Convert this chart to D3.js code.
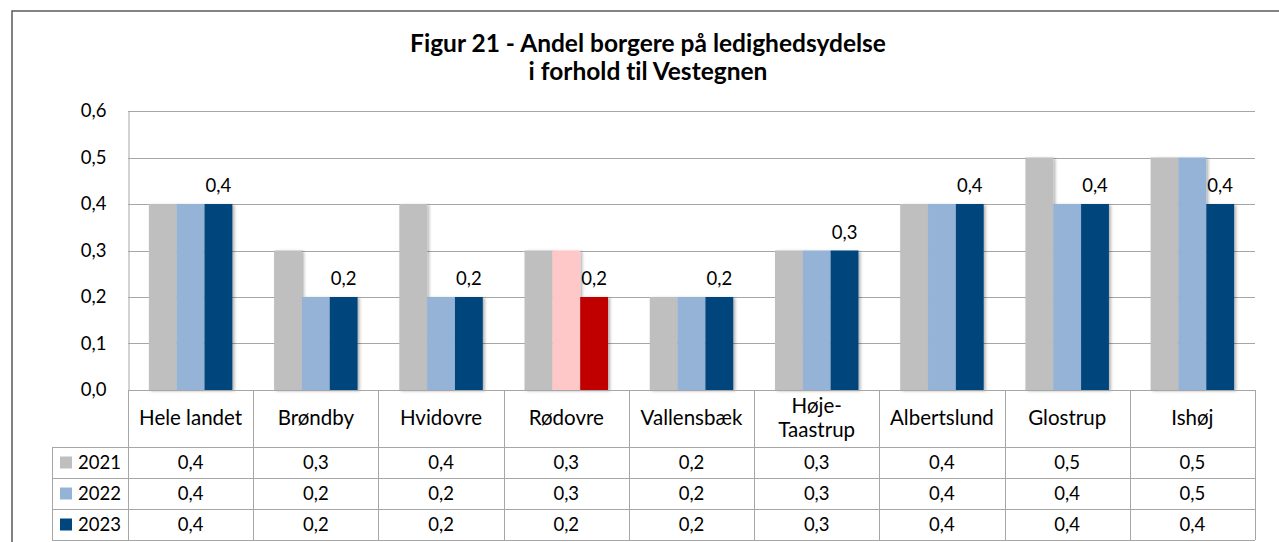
<!DOCTYPE html>
<html>
<head>
<meta charset="utf-8">
<script src="https://cdn.jsdelivr.net/npm/d3@7"></script>
<style>
  body { margin: 0; background: #fff; }
  text { font-family: Lato, "Open Sans", sans-serif; fill: #000; font-variant-ligatures: none; }
</style>
</head>
<body>
<div id="chart"></div>
<script>
// data
const categories = ["Hele landet", "Brøndby", "Hvidovre", "Rødovre", "Vallensbæk", "Høje-Taastrup", "Albertslund", "Glostrup", "Ishøj"];
const years = ["2021", "2022", "2023"];
const values2021 = [0.4, 0.3, 0.4, 0.3, 0.2, 0.3, 0.4, 0.5, 0.5];
const values2022 = [0.4, 0.2, 0.2, 0.3, 0.2, 0.3, 0.4, 0.4, 0.5];
const values2023 = [0.4, 0.2, 0.2, 0.2, 0.2, 0.3, 0.4, 0.4, 0.4];
const yTicks = [0, 0.1, 0.2, 0.3, 0.4, 0.5, 0.6];
const highlighted = "Rødovre";

const series = [values2021, values2022, values2023];
const colors = ["#bfbfbf", "#95b3d7", "#00457c"];
const highlightColors = ["#bfbfbf", "#ffc8c8", "#c00000"];

const W = 1279, H = 542;
const plotLeft = 128, plotRight = 1255;
const plotTop = 111, plotBottom = 390;
const headerBottom = 447;
const rowH = 31;
const tableLeft = 52;
const FS = 18.5;      // numbers
const FS_CAT = 20.5;  // category names

const locale = d3.formatLocale({ decimal: ",", thousands: ".", grouping: [3], currency: ["", " kr."] });
const fmt = locale.format(".1f");

const svg = d3.select("#chart").append("svg")
    .attr("width", W)
    .attr("height", H);

// soft shadow like the office chart
const defs = svg.append("defs");
const shadow = defs.append("filter").attr("id", "shadow")
    .attr("x", "-20%").attr("y", "-10%").attr("width", "160%").attr("height", "130%");
shadow.append("feDropShadow")
    .attr("dx", 2).attr("dy", 1)
    .attr("stdDeviation", 1.6)
    .attr("flood-color", "#000")
    .attr("flood-opacity", 0.3);

// outer frame
svg.append("rect")
    .attr("x", 12).attr("y", 11)
    .attr("width", W + 20).attr("height", H + 20)
    .attr("fill", "none")
    .attr("stroke", "#595959")
    .attr("stroke-width", 1.5);

// title
svg.append("text")
    .attr("x", 648).attr("y", 52)
    .attr("text-anchor", "middle")
    .attr("font-weight", "bold")
    .attr("font-size", 24.5)
    .text("Figur 21 - Andel borgere på ledighedsydelse");
svg.append("text")
    .attr("x", 648).attr("y", 80)
    .attr("text-anchor", "middle")
    .attr("font-weight", "bold")
    .attr("font-size", 24.5)
    .text("i forhold til Vestegnen");

const x = d3.scaleBand()
    .domain(categories)
    .range([plotLeft, plotRight]);

const xs = d3.scaleBand()
    .domain(years)
    .range([0, x.bandwidth()])
    .paddingInner(0)
    .paddingOuter(0.75);

const y = d3.scaleLinear()
    .domain([0, 0.6])
    .range([plotBottom, plotTop]);

// gridlines
svg.append("g")
    .selectAll("line")
    .data(yTicks)
    .join("line")
    .attr("x1", plotLeft).attr("x2", plotRight)
    .attr("y1", d => Math.round(y(d)) + 0.5)
    .attr("y2", d => Math.round(y(d)) + 0.5)
    .attr("stroke", "#a6a6a6");

// y axis
const yAxis = svg.append("g")
    .attr("transform", "translate(" + (plotLeft + 0.5) + ",0)")
    .call(d3.axisLeft(y).tickValues(yTicks).tickFormat(fmt).tickSize(0).tickPadding(22));
yAxis.select(".domain").attr("stroke", "#a6a6a6");
yAxis.selectAll("text")
    .attr("font-size", FS)
    .attr("font-family", "Lato, sans-serif")
    .attr("fill", "#000");

// bars
const groups = svg.append("g")
    .selectAll("g")
    .data(categories)
    .join("g")
    .attr("transform", d => "translate(" + x(d) + ",0)");

groups.selectAll("rect")
    .data((c, i) => years.map((yr, j) => ({ c: c, yr: yr, j: j, v: series[j][i] })))
    .join("rect")
    .attr("x", d => xs(d.yr))
    .attr("width", xs.bandwidth())
    .attr("y", d => y(d.v))
    .attr("height", d => y(0) - y(d.v))
    .attr("fill", d => (d.c === highlighted ? highlightColors : colors)[d.j])
    .attr("filter", "url(#shadow)");

// data labels on the 2023 series
groups.append("text")
    .attr("x", xs("2023") + xs.bandwidth() / 2)
    .attr("y", (c, i) => y(values2023[i]) - 12)
    .attr("text-anchor", "middle")
    .attr("font-size", FS)
    .text((c, i) => fmt(values2023[i]));

// data table
const grid = svg.append("g").attr("stroke", "#a6a6a6").attr("fill", "none");
const tableBottom = headerBottom + rowH * 3;

// horizontal lines
grid.append("line")
    .attr("x1", plotLeft).attr("x2", plotRight)
    .attr("y1", plotBottom + 0.5).attr("y2", plotBottom + 0.5);
[0, 1, 2, 3].forEach(k => {
    grid.append("line")
        .attr("x1", tableLeft).attr("x2", plotRight)
        .attr("y1", headerBottom + k * rowH + 0.5)
        .attr("y2", headerBottom + k * rowH + 0.5);
});
// vertical lines
grid.append("line")
    .attr("x1", tableLeft + 0.5).attr("x2", tableLeft + 0.5)
    .attr("y1", headerBottom).attr("y2", tableBottom);
categories.concat([null]).forEach((c, i) => {
    const xx = Math.round(plotLeft + i * x.step()) + 0.5;
    grid.append("line")
        .attr("x1", xx).attr("x2", xx)
        .attr("y1", plotBottom).attr("y2", tableBottom);
});

// category headers
const headerMid = (plotBottom + headerBottom) / 2;
categories.forEach(c => {
    const parts = c === "Høje-Taastrup" ? ["Høje-", "Taastrup"] : [c];
    const t = svg.append("text")
        .attr("x", x(c) + x.bandwidth() / 2)
        .attr("text-anchor", "middle")
        .attr("font-size", FS_CAT);
    parts.forEach((p, k) => {
        t.append("tspan")
            .attr("x", x(c) + x.bandwidth() / 2)
            .attr("y", headerMid + 6 + (k - (parts.length - 1) / 2) * 24)
            .text(p);
    });
});

// rows
years.forEach((yr, j) => {
    const rowMid = headerBottom + j * rowH + rowH / 2;
    svg.append("rect")
        .attr("x", 60).attr("y", rowMid - 6)
        .attr("width", 12).attr("height", 12)
        .attr("fill", colors[j]);
    svg.append("text")
        .attr("x", 78).attr("y", rowMid + 6)
        .attr("font-size", FS)
        .text(yr);
    categories.forEach((c, i) => {
        svg.append("text")
            .attr("x", x(c) + x.bandwidth() / 2)
            .attr("y", rowMid + 6)
            .attr("text-anchor", "middle")
            .attr("font-size", FS)
            .text(fmt(series[j][i]));
    });
});
</script>
</body>
</html>
